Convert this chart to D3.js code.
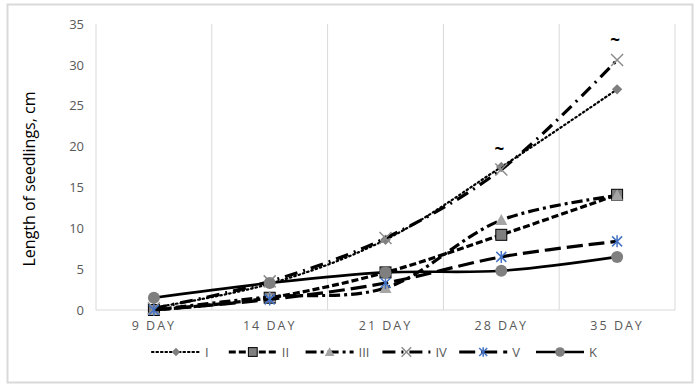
<!DOCTYPE html>
<html>
<head>
<meta charset="utf-8">
<script src="https://cdn.jsdelivr.net/npm/d3@7"></script>
<style>
  body { margin: 0; background: #fff; }
  text { font-family: "Open Sans", "Liberation Sans", sans-serif; }
</style>
</head>
<body>
<svg id="chart" width="698" height="388"></svg>
<script>
// categories and series values (cm)
const days = ["9 DAY", "14 DAY", "21 DAY", "28 DAY", "35 DAY"];
const yTicks = [0, 5, 10, 15, 20, 25, 30, 35];
const seriesNames = ["I", "II", "III", "IV", "V", "K"];
const valsI = [0.3, 3.2, 8.6, 17.5, 27.0];
const valsII = [0.0, 1.5, 4.6, 9.2, 14.1];
const valsIII = [0.0, 1.6, 2.7, 11.0, 14.0];
const valsIV = [0.2, 3.5, 8.8, 17.2, 30.6];
const valsV = [0.0, 1.3, 3.3, 6.5, 8.4];
const valsK = [1.5, 3.3, 4.6, 4.8, 6.5];
const tildeAt = ["28 DAY", "35 DAY"]; // "~" labels over series IV

const svg = d3.select("#chart");

// chart frame
svg.append("rect")
    .attr("x", 7.5).attr("y", 4.5)
    .attr("width", 685).attr("height", 378)
    .attr("fill", "#fff")
    .attr("stroke", "#d9d9d9")
    .attr("stroke-width", 2);

const plot = { left: 96, right: 675, top: 24, bottom: 310 };

const x = d3.scaleBand().domain(days).range([plot.left, plot.right]);
const y = d3.scaleLinear().domain([0, 35]).range([plot.bottom, plot.top]);
const cx = d => x(d) + x.bandwidth() / 2;

// vertical gridlines at category boundaries
const bounds = days.map(d => x(d)).concat([plot.right]);
svg.selectAll(".vgrid")
    .data(bounds)
    .enter()
    .append("line")
    .attr("class", "vgrid")
    .attr("x1", d => d).attr("x2", d => d)
    .attr("y1", plot.top).attr("y2", plot.bottom)
    .attr("stroke", "#d9d9d9")
    .attr("stroke-width", 1);

// baseline
svg.append("line")
    .attr("x1", plot.left).attr("x2", plot.right)
    .attr("y1", plot.bottom).attr("y2", plot.bottom)
    .attr("stroke", "#d9d9d9");

// y tick labels
const yAxis = svg.append("g")
    .attr("transform", `translate(${plot.left - 12},0)`)
    .call(d3.axisLeft(y).tickValues(yTicks).tickSize(0).tickPadding(0));
yAxis.select(".domain").remove();
yAxis.selectAll("text")
    .attr("fill", "#595959")
    .style("font-size", "13px");

// x tick labels
const xAxis = svg.append("g")
    .attr("transform", `translate(0,${plot.bottom + 10})`)
    .call(d3.axisBottom(x).tickSize(0).tickPadding(0));
xAxis.select(".domain").remove();
xAxis.selectAll("text")
    .attr("fill", "#595959")
    .attr("dy", "0.8em")
    .style("font-size", "12.5px")
    .style("letter-spacing", "2px");

// y axis title
svg.append("text")
    .attr("transform", `translate(35,${(plot.top + plot.bottom) / 2 + 12}) rotate(-90)`)
    .attr("text-anchor", "middle")
    .attr("fill", "#000")
    .style("font-size", "16px")
    .text("Length of seedlings, cm");

const series = [
    { name: "I", values: valsI, dash: "1.5 3", width: 2.2, cap: "round", marker: "diamond" },
    { name: "II", values: valsII, dash: "7 3", width: 3.2, cap: "butt", marker: "square" },
    { name: "III", values: valsIII, dash: "11 4 3 4", width: 3.2, cap: "butt", marker: "triangle" },
    { name: "IV", values: valsIV, dash: "13 6 2 6", width: 3.2, cap: "butt", marker: "x" },
    { name: "V", values: valsV, dash: "16 6", width: 3.2, cap: "butt", marker: "asterisk" },
    { name: "K", values: valsK, dash: null, width: 2.6, cap: "butt", marker: "circle" }
];

const line = d3.line()
    .x((v, i) => cx(days[i]))
    .y(v => y(v))
    .curve(d3.curveCatmullRom.alpha(0.5));

function drawMarker(g, type, px, py, k = 1) {
    if (type === "diamond") {
        g.append("path")
            .attr("d", d3.symbol(d3.symbolDiamond2, 70 * k * k)())
            .attr("transform", `translate(${px},${py})`)
            .attr("fill", "#7f7f7f");
    } else if (type === "square") {
        const h = 5.5 * k;
        g.append("rect")
            .attr("x", px - h).attr("y", py - h)
            .attr("width", 2 * h).attr("height", 2 * h)
            .attr("fill", "#7f7f7f")
            .attr("stroke", "#000").attr("stroke-width", 1);
    } else if (type === "triangle") {
        g.append("path")
            .attr("d", `M${px},${py - 6 * k}L${px + 6 * k},${py + 5 * k}L${px - 6 * k},${py + 5 * k}Z`)
            .attr("fill", "#a5a5a5");
    } else if (type === "x") {
        const h = 6 * k;
        g.append("path")
            .attr("d", `M${px - h},${py - h}L${px + h},${py + h}M${px - h},${py + h}L${px + h},${py - h}`)
            .attr("stroke", "#8c8c8c").attr("stroke-width", 1.5);
    } else if (type === "asterisk") {
        const h = 5 * k;
        g.append("path")
            .attr("d", `M${px - h},${py - h}L${px + h},${py + h}M${px - h},${py + h}L${px + h},${py - h}M${px},${py - 6 * k}L${px},${py + 6 * k}`)
            .attr("stroke", "#4472c4").attr("stroke-width", 1.5);
    } else if (type === "circle") {
        g.append("circle")
            .attr("cx", px).attr("cy", py).attr("r", 6 * k)
            .attr("fill", "#7f7f7f");
    }
}

series.forEach(s => {
    const g = svg.append("g").attr("class", "series");
    g.append("path")
        .datum(s.values)
        .attr("d", line)
        .attr("fill", "none")
        .attr("stroke", "#000")
        .attr("stroke-width", s.width)
        .attr("stroke-linecap", s.cap)
        .attr("stroke-dasharray", s.dash);
    s.values.forEach((v, i) => drawMarker(g, s.marker, cx(days[i]), y(v)));
});

// "~" labels above series IV
svg.selectAll(".tilde")
    .data(tildeAt)
    .enter()
    .append("text")
    .attr("class", "tilde")
    .attr("x", d => cx(d) - 2)
    .attr("y", d => y(valsIV[days.indexOf(d)]) - 14)
    .attr("text-anchor", "middle")
    .attr("fill", "#000")
    .style("font-size", "17px")
    .style("font-weight", "bold")
    .text("~");

// legend
const legendX = d3.scalePoint().domain(seriesNames).range([152, 536]);
const legend = svg.append("g").attr("class", "legend");
series.forEach(s => {
    const lx = legendX(s.name);
    const ly = 352;
    legend.append("line")
        .attr("x1", lx).attr("x2", lx + 48)
        .attr("y1", ly).attr("y2", ly)
        .attr("stroke", "#000")
        .attr("stroke-width", s.width)
        .attr("stroke-linecap", s.cap)
        .attr("stroke-dasharray", s.dash);
    drawMarker(legend, s.marker, lx + 24, ly, 0.8);
    legend.append("text")
        .attr("x", lx + 53)
        .attr("y", ly)
        .attr("dy", "0.35em")
        .attr("fill", "#595959")
        .style("font-size", "13px")
        .text(s.name);
});
</script>
</body>
</html>
